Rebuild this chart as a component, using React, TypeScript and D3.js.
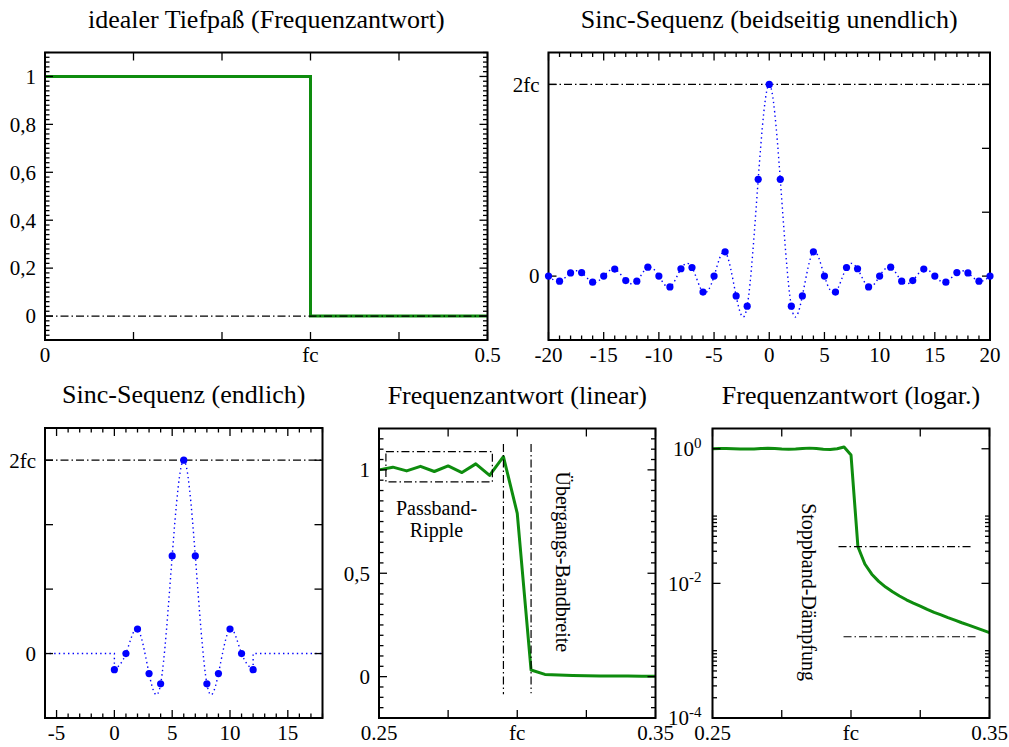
import React from 'react';
import * as d3 from 'd3';

const FONT = '"Liberation Serif", "Times New Roman", Times, serif';
const GREEN = '#0e8c0e';
const BLUE = '#0000ff';
const DASHDOT = '8 3 1.5 3';
const DOTTED = '1.4 3.2';

// ---- ideal low-pass (frequency response) ----
const idealFreq = [0, 0.3, 0.5];
const idealGain = [1, 0, 0];
const idealXTicks = [0, 0.1, 0.2, 0.3, 0.4, 0.5];
const idealXLabels = ['0', '', '', 'fc', '', '0.5'];
const idealYTicks = [0, 0.2, 0.4, 0.6, 0.8, 1];
const idealYLabels = ['0', '0,2', '0,4', '0,6', '0,8', '1'];

// ---- sinc sequence, two-sided infinite (shown -20..20) ----
const sincIndex = [
  -20, -19, -18, -17, -16, -15, -14, -13, -12, -11, -10, -9, -8, -7, -6, -5, -4, -3, -2, -1,
  0, 1, 2, 3, 4, 5, 6, 7, 8, 9, 10, 11, 12, 13, 14, 15, 16, 17, 18, 19, 20,
];
const sincValues = [
  0, -0.016, 0.010, 0.011, -0.019, 0, 0.022, -0.014, -0.016, 0.028, 0, -0.034, 0.023, 0.027, -0.050, 0, 0.076, -0.062, -0.094, 0.303,
  0.6, 0.303, -0.094, -0.062, 0.076, 0, -0.050, 0.027, 0.023, -0.034, 0, 0.028, -0.016, -0.014, 0.022, 0, -0.019, 0.011, 0.010, -0.016, 0,
];
const twoFc = 0.6;

// ---- finite sinc sequence (13 taps, shifted) ----
const finiteIndex = [0, 1, 2, 3, 4, 5, 6, 7, 8, 9, 10, 11, 12];
const finiteValues = [-0.050, 0, 0.076, -0.062, -0.094, 0.303, 0.6, 0.303, -0.094, -0.062, 0.076, 0, -0.050];

// ---- frequency response, linear view ----
const linFreq = [
  0.25, 0.255, 0.26, 0.265, 0.27, 0.275, 0.28, 0.285, 0.29, 0.295, 0.3,
  0.305, 0.31, 0.315, 0.32, 0.325, 0.33, 0.335, 0.34, 0.345, 0.35,
];
const linGain = [
  1.0, 1.013, 0.995, 1.017, 0.992, 1.019, 0.987, 1.029, 0.973, 1.064, 0.79,
  0.032, 0.0107, 0.0075, 0.0057, 0.0046, 0.0037, 0.0031, 0.0026, 0.0022, 0.00185,
];

// ---- frequency response, logarithmic view ----
const logFreq = [
  0.25, 0.2525, 0.255, 0.2575, 0.26, 0.2625, 0.265, 0.2675, 0.27, 0.2725, 0.275,
  0.2775, 0.28, 0.2825, 0.285, 0.2875, 0.29, 0.2925, 0.295, 0.2975, 0.3,
  0.3025, 0.305, 0.3075, 0.31, 0.3125, 0.315, 0.3175, 0.32, 0.3225, 0.325,
  0.3275, 0.33, 0.3325, 0.335, 0.3375, 0.34, 0.3425, 0.345, 0.3475, 0.35,
];
const logGain = [
  1.0, 1.006, 1.01, 1.003, 0.994, 0.99, 0.996, 1.008, 1.015, 1.008, 0.992,
  0.985, 0.994, 1.012, 1.022, 1.01, 0.984, 0.972, 1.0, 1.06, 0.81,
  0.035, 0.0194, 0.0137, 0.0107, 0.0088, 0.0075, 0.0065, 0.0057, 0.0051, 0.0046,
  0.0041, 0.0037, 0.0034, 0.0031, 0.00285, 0.0026, 0.0024, 0.0022, 0.00202, 0.00185,
];

const freqXTicks = [0.25, 0.275, 0.3, 0.325, 0.35];
const freqXLabels = ['0.25', '', 'fc', '', '0.35'];
const linYTicks = [0, 0.5, 1];
const linYLabels = ['0', '0,5', '1'];
const logYMajor = [1, 1e-2, 1e-4];
const logYExp = ['0', '-2', '-4'];

type Box = { x0: number; x1: number; y0: number; y1: number };
type TickSpec = { v: number; len: number };

function Frame({
  box, sx, sy, xTicks, yTicksLeft, yTicksRight,
}: {
  box: Box;
  sx: (v: number) => number;
  sy: (v: number) => number;
  xTicks: TickSpec[];
  yTicksLeft: TickSpec[];
  yTicksRight: TickSpec[];
}) {
  const { x0, x1, y0, y1 } = box;
  return (
    <g stroke="#000" strokeWidth={1.3} fill="none">
      {xTicks.map((t, i) => (
        <g key={'x' + i}>
          <line x1={sx(t.v)} x2={sx(t.v)} y1={y1} y2={y1 - t.len} />
          <line x1={sx(t.v)} x2={sx(t.v)} y1={y0} y2={y0 + t.len} />
        </g>
      ))}
      {yTicksLeft.map((t, i) => (
        <line key={'yl' + i} x1={x0} x2={x0 + t.len} y1={sy(t.v)} y2={sy(t.v)} />
      ))}
      {yTicksRight.map((t, i) => (
        <line key={'yr' + i} x1={x1} x2={x1 - t.len} y1={sy(t.v)} y2={sy(t.v)} />
      ))}
      <rect x={x0} y={y0} width={x1 - x0} height={y1 - y0} strokeWidth={2} />
    </g>
  );
}

function Title({ box, text }: { box: Box; text: string }) {
  return (
    <text x={(box.x0 + box.x1) / 2} y={box.y0 - 25} textAnchor="middle" fontSize={26} fontFamily={FONT}>
      {text}
    </text>
  );
}

function XLabels({ box, sx, ticks, labels }: { box: Box; sx: (v: number) => number; ticks: number[]; labels: string[] }) {
  return (
    <g fontSize={21} fontFamily={FONT} textAnchor="middle">
      {ticks.map((t, i) =>
        labels[i] ? (
          <text key={i} x={sx(t)} y={box.y1 + 22}>
            {labels[i]}
          </text>
        ) : null,
      )}
    </g>
  );
}

function YLabels({ box, sy, ticks, labels }: { box: Box; sy: (v: number) => number; ticks: number[]; labels: string[] }) {
  return (
    <g fontSize={21} fontFamily={FONT} textAnchor="end">
      {ticks.map((t, i) =>
        labels[i] ? (
          <text key={i} x={box.x0 - 9} y={sy(t)} dy="0.35em">
            {labels[i]}
          </text>
        ) : null,
      )}
    </g>
  );
}

const major = (vals: number[], len = 8) => vals.map((v) => ({ v, len }));
const minor = (vals: number[], len = 4.5) => vals.map((v) => ({ v, len }));

function IdealPanel() {
  const box: Box = { x0: 45, x1: 487.5, y0: 52.5, y1: 340 };
  const x = d3.scaleLinear().domain([0, 0.5]).range([box.x0, box.x1]);
  const y = d3.scaleLinear().domain([-0.1, 1.1]).range([box.y1, box.y0]);
  const pts = idealFreq.map((f, i) => [f, idealGain[i]] as [number, number]);
  const step = d3.line<[number, number]>().x((d) => x(d[0])).y((d) => y(d[1])).curve(d3.curveStepAfter)(pts) || '';
  const yMinor = d3.range(-0.08, 1.1, 0.02).filter((v) => Math.abs(v / 0.2 - Math.round(v / 0.2)) > 1e-6);
  return (
    <g>
      <Title box={box} text="idealer Tiefpaß (Frequenzantwort)" />
      <path d={step} fill="none" stroke={GREEN} strokeWidth={3} />
      <line x1={x(0)} x2={x(0.5)} y1={y(0)} y2={y(0)} stroke="#000" strokeWidth={1.2} strokeDasharray={DASHDOT} />
      <Frame
        box={box}
        sx={x}
        sy={y}
        xTicks={major(idealXTicks)}
        yTicksLeft={[...major(idealYTicks), ...minor(yMinor)]}
        yTicksRight={[...major(idealYTicks), ...minor(yMinor)]}
      />
      <XLabels box={box} sx={x} ticks={idealXTicks} labels={idealXLabels} />
      <YLabels box={box} sy={y} ticks={idealYTicks} labels={idealYLabels} />
    </g>
  );
}

function SincInfinitePanel() {
  const box: Box = { x0: 548.5, x1: 990, y0: 52.5, y1: 340 };
  const x = d3.scaleLinear().domain([-20, 20]).range([box.x0, box.x1]);
  const y = d3.scaleLinear().domain([-0.2, 0.7]).range([box.y1, box.y0]);
  const pts = sincIndex.map((n, i) => [n, sincValues[i]] as [number, number]);
  const curve = d3.line<[number, number]>().x((d) => x(d[0])).y((d) => y(d[1])).curve(d3.curveNatural)(pts) || '';
  const xMajor = d3.range(-20, 21, 5);
  const xMinor = d3.range(-19, 20, 1).filter((v) => v % 5 !== 0);
  return (
    <g>
      <Title box={box} text="Sinc-Sequenz (beidseitig unendlich)" />
      <line x1={box.x0} x2={box.x1} y1={y(twoFc)} y2={y(twoFc)} stroke="#000" strokeWidth={1.2} strokeDasharray={DASHDOT} />
      <path d={curve} fill="none" stroke={BLUE} strokeWidth={1.4} strokeDasharray={DOTTED} />
      <Frame
        box={box}
        sx={x}
        sy={y}
        xTicks={[...major(xMajor), ...minor(xMinor)]}
        yTicksLeft={major([0, twoFc])}
        yTicksRight={major([0, 0.2, 0.4, twoFc])}
      />
      {pts.map((d, i) => (
        <circle key={i} cx={x(d[0])} cy={y(d[1])} r={3.6} fill={BLUE} />
      ))}
      <XLabels box={box} sx={x} ticks={xMajor} labels={xMajor.map(String)} />
      <YLabels box={box} sy={y} ticks={[0, twoFc]} labels={['0', '2fc']} />
    </g>
  );
}

function SincFinitePanel() {
  const box: Box = { x0: 45, x1: 322.5, y0: 428, y1: 718 };
  const x = d3.scaleLinear().domain([-6, 18]).range([box.x0, box.x1]);
  const y = d3.scaleLinear().domain([-0.2, 0.7]).range([box.y1, box.y0]);
  const pts = finiteIndex.map((n, i) => [n, finiteValues[i]] as [number, number]);
  const lin = d3.line<[number, number]>().x((d) => x(d[0])).y((d) => y(d[1]));
  const first = pts[0];
  const last = pts[pts.length - 1];
  const leftTail = lin([[-6, 0], [first[0], 0], first]) || '';
  const rightTail = lin([last, [last[0], 0], [18, 0]]) || '';
  const middle = lin.curve(d3.curveNatural)(pts) || '';
  const xMajor = d3.range(-5, 16, 5);
  const xMinor = d3.range(-6, 19, 1).filter((v) => v % 5 !== 0);
  return (
    <g>
      <Title box={box} text="Sinc-Sequenz (endlich)" />
      <line x1={box.x0} x2={box.x1} y1={y(twoFc)} y2={y(twoFc)} stroke="#000" strokeWidth={1.2} strokeDasharray={DASHDOT} />
      <g fill="none" stroke={BLUE} strokeWidth={1.4} strokeDasharray={DOTTED}>
        <path d={leftTail} />
        <path d={middle} />
        <path d={rightTail} />
      </g>
      <Frame
        box={box}
        sx={x}
        sy={y}
        xTicks={[...major(xMajor), ...minor(xMinor)]}
        yTicksLeft={major([0, 0.2, 0.4, twoFc])}
        yTicksRight={major([0, 0.2, 0.4, twoFc])}
      />
      {pts.map((d, i) => (
        <circle key={i} cx={x(d[0])} cy={y(d[1])} r={3.6} fill={BLUE} />
      ))}
      <XLabels box={box} sx={x} ticks={xMajor} labels={xMajor.map(String)} />
      <YLabels box={box} sy={y} ticks={[0, twoFc]} labels={['0', '2fc']} />
    </g>
  );
}

function LinearResponsePanel() {
  const box: Box = { x0: 379, x1: 655.5, y0: 428.5, y1: 718 };
  const x = d3.scaleLinear().domain([0.25, 0.35]).range([box.x0, box.x1]);
  const y = d3.scaleLinear().domain([-0.2, 1.2]).range([box.y1, box.y0]);
  const pts = linFreq.map((f, i) => [f, linGain[i]] as [number, number]);
  const line = d3.line<[number, number]>().x((d) => x(d[0])).y((d) => y(d[1]))(pts) || '';
  const yMinor = d3.range(-0.15, 1.2, 0.05).filter((v) => Math.abs(v / 0.5 - Math.round(v / 0.5)) > 1e-6);
  const rect = { f0: 0.2525, f1: 0.291, g0: 0.942, g1: 1.088 };
  return (
    <g>
      <Title box={box} text="Frequenzantwort (linear)" />
      <path d={line} fill="none" stroke={GREEN} strokeWidth={3} strokeLinejoin="round" />
      <g stroke="#000" strokeWidth={1.2} strokeDasharray={DASHDOT} fill="none">
        <rect x={x(rect.f0)} y={y(rect.g1)} width={x(rect.f1) - x(rect.f0)} height={y(rect.g0) - y(rect.g1)} />
        <line x1={x(0.295)} x2={x(0.295)} y1={y(1.125)} y2={y(-0.085)} />
        <line x1={x(0.305)} x2={x(0.305)} y1={y(1.125)} y2={y(-0.08)} />
      </g>
      <Frame
        box={box}
        sx={x}
        sy={y}
        xTicks={major(freqXTicks)}
        yTicksLeft={[...major(linYTicks), ...minor(yMinor)]}
        yTicksRight={[...major(linYTicks), ...minor(yMinor)]}
      />
      <g fontSize={20} fontFamily={FONT} textAnchor="middle">
        <text x={x(0.2708)} y={y(0.784)}>Passband-</text>
        <text x={x(0.2708)} y={y(0.784) + 22}>Ripple</text>
        <text transform={`translate(${x(0.3166)},${y(0.555)}) rotate(90)`} dy="0.35em">
          Übergangs-Bandbreite
        </text>
      </g>
      <XLabels box={box} sx={x} ticks={freqXTicks} labels={freqXLabels} />
      <YLabels box={box} sy={y} ticks={linYTicks} labels={linYLabels} />
    </g>
  );
}

function LogResponsePanel() {
  const box: Box = { x0: 712.5, x1: 989.5, y0: 428.5, y1: 718 };
  const x = d3.scaleLinear().domain([0.25, 0.35]).range([box.x0, box.x1]);
  const y = d3.scaleLog().domain([1e-4, 2]).range([box.y1, box.y0]);
  const pts = logFreq.map((f, i) => [f, logGain[i]] as [number, number]);
  const line = d3.line<[number, number]>().x((d) => x(d[0])).y((d) => y(d[1]))(pts) || '';
  const yMinor = [
    ...d3.range(2, 11).map((k) => k * 1e-2),
    ...d3.range(2, 11).map((k) => k * 1e-4),
  ];
  return (
    <g>
      <Title box={box} text="Frequenzantwort (logar.)" />
      <path d={line} fill="none" stroke={GREEN} strokeWidth={3} strokeLinejoin="round" />
      <g stroke="#000" strokeWidth={1.2} strokeDasharray={DASHDOT}>
        <line x1={x(0.2955)} x2={x(0.3437)} y1={y(0.0352)} y2={y(0.0352)} />
        <line x1={x(0.2973)} x2={x(0.3452)} y1={y(0.00161)} y2={y(0.00161)} />
      </g>
      <Frame
        box={box}
        sx={x}
        sy={y}
        xTicks={major(freqXTicks)}
        yTicksLeft={[...major(logYMajor), ...minor(yMinor)]}
        yTicksRight={[...major(logYMajor), ...minor(yMinor)]}
      />
      <text
        transform={`translate(${x(0.2847)},${y(0.00744)}) rotate(90)`}
        dy="0.35em"
        fontSize={20}
        fontFamily={FONT}
        textAnchor="middle"
      >
        Stoppband-Dämpfung
      </text>
      <XLabels box={box} sx={x} ticks={freqXTicks} labels={freqXLabels} />
      <g fontSize={21} fontFamily={FONT} textAnchor="end">
        {logYMajor.map((v, i) => (
          <text key={i} x={box.x0 - 11} y={y(v)} dy="0.35em">
            10
            <tspan dy="-0.55em" fontSize={15}>{logYExp[i]}</tspan>
          </text>
        ))}
      </g>
    </g>
  );
}

export default function App() {
  return (
    <svg
      width={1009}
      height={747}
      viewBox="0 0 1009 747"
      style={{ position: 'absolute', left: 0, top: 0, background: '#fff' }}
    >
      <rect width={1009} height={747} fill="#fff" />
      <IdealPanel />
      <SincInfinitePanel />
      <SincFinitePanel />
      <LinearResponsePanel />
      <LogResponsePanel />
    </svg>
  );
}
